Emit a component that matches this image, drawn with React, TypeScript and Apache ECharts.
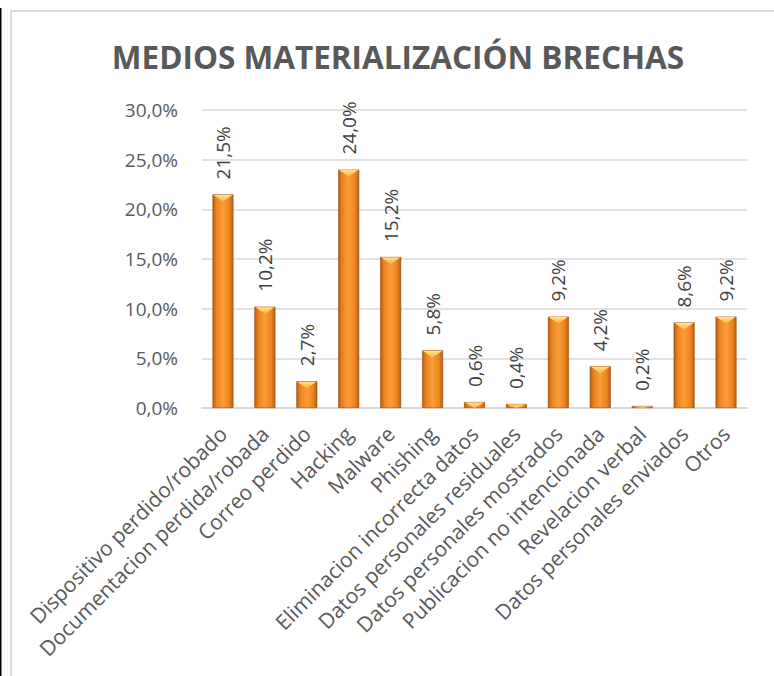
import React, { useEffect, useRef } from "react";
import * as echarts from "echarts";

const categories = [
  "Dispositivo perdido/robado",
  "Documentacion perdida/robada",
  "Correo perdido",
  "Hacking",
  "Malware",
  "Phishing",
  "Eliminacion incorrecta datos",
  "Datos personales residuales",
  "Datos personales mostrados",
  "Publicacion no intencionada",
  "Revelacion verbal",
  "Datos personales enviados",
  "Otros",
];
const values = [0.215, 0.102, 0.027, 0.24, 0.152, 0.058, 0.006, 0.004, 0.092, 0.042, 0.002, 0.086, 0.092];
const titleText = "MEDIOS MATERIALIZACIÓN BRECHAS";

const pct = (v: number) => (v * 100).toFixed(1).replace(".", ",") + "%";
const FONT = "'Open Sans', sans-serif";

export default function App() {
  const ref = useRef<HTMLDivElement>(null);
  useEffect(() => {
    if (!ref.current) return;
    const chart = echarts.init(ref.current, undefined, { renderer: "svg" });
    const barGrad = new echarts.graphic.LinearGradient(0, 0, 1, 0, [
      { offset: 0, color: "#b85c10" },
      { offset: 0.18, color: "#e98421" },
      { offset: 0.5, color: "#fc9d36" },
      { offset: 0.82, color: "#e98421" },
      { offset: 1, color: "#b85c10" },
    ]);
    chart.setOption({
      animation: false,
      backgroundColor: "#ffffff",
      title: {
        text: titleText,
        left: 393,
        textAlign: "center",
        top: 35,
        textStyle: { fontFamily: FONT, fontWeight: "bold", fontSize: 31.5, color: "#595959" },
      },
      grid: { left: 202, right: 27, top: 110, bottom: 268, containLabel: false },
      xAxis: {
        type: "category",
        data: categories,
        axisLine: { lineStyle: { color: "#d9d9d9", width: 2 } },
        axisTick: { show: false },
        axisLabel: {
          interval: 0,
          rotate: 45,
          margin: 22,
          fontFamily: FONT,
          fontSize: 21,
          color: "#595959",
        },
      },
      yAxis: {
        type: "value",
        min: 0,
        max: 0.3,
        interval: 0.05,
        axisLine: { show: false },
        axisTick: { show: false },
        splitLine: { lineStyle: { color: "#d9d9d9", width: 1.5 } },
        axisLabel: {
          margin: 24,
          fontFamily: FONT,
          fontSize: 19,
          color: "#595959",
          formatter: (v: number) => pct(v),
        },
      },
      series: [
        {
          type: "bar",
          data: values,
          barWidth: "50%",
          itemStyle: { color: barGrad, borderColor: "#9a4c0b", borderWidth: 0.6 },
          label: {
            show: true,
            position: "top",
            rotate: 90,
            align: "left",
            verticalAlign: "middle",
            distance: 15,
            fontFamily: FONT,
            fontSize: 19,
            color: "#404040",
            formatter: (p: any) => pct(p.value),
          },
        },
        {
          type: "custom",
          silent: true,
          z: 5,
          data: values.map((v, i) => [i, v]),
          renderItem: (params: any, api: any) => {
            const i = api.value(0);
            const v = api.value(1);
            const top = api.coord([i, v]);
            const base = api.coord([i, 0]);
            const w = api.size([1, 0])[0] * 0.5;
            const h = Math.max(0, base[1] - top[1]);
            const th = Math.min(7, h);
            const x0 = top[0] - w / 2 + 1;
            const x1 = top[0] + w / 2 - 1;
            return {
              type: "polygon",
              shape: {
                points: [
                  [x0, top[1] + 0.5],
                  [x1, top[1] + 0.5],
                  [top[0], top[1] + th],
                ],
              },
              style: {
                fill: new echarts.graphic.LinearGradient(0, 0, 0, 1, [
                  { offset: 0, color: "#ffe48a" },
                  { offset: 1, color: "#f9b448" },
                ]),
              },
            };
          },
        },
      ],
      graphic: [
        {
          type: "line",
          shape: { x1: 0.75, y1: 8, x2: 0.75, y2: 676 },
          style: { stroke: "#000000", lineWidth: 1.5 },
          silent: true,
        },
        {
          type: "line",
          shape: { x1: 10, y1: 11, x2: 774, y2: 11 },
          style: { stroke: "#d9d9d9", lineWidth: 2 },
          silent: true,
        },
        {
          type: "line",
          shape: { x1: 11, y1: 10, x2: 11, y2: 676 },
          style: { stroke: "#d9d9d9", lineWidth: 2 },
          silent: true,
        },
      ],
    });
    return () => chart.dispose();
  }, []);
  return (
    <div
      ref={ref}
      style={{ position: "absolute", left: 0, top: 0, width: 774, height: 676 }}
    />
  );
}
